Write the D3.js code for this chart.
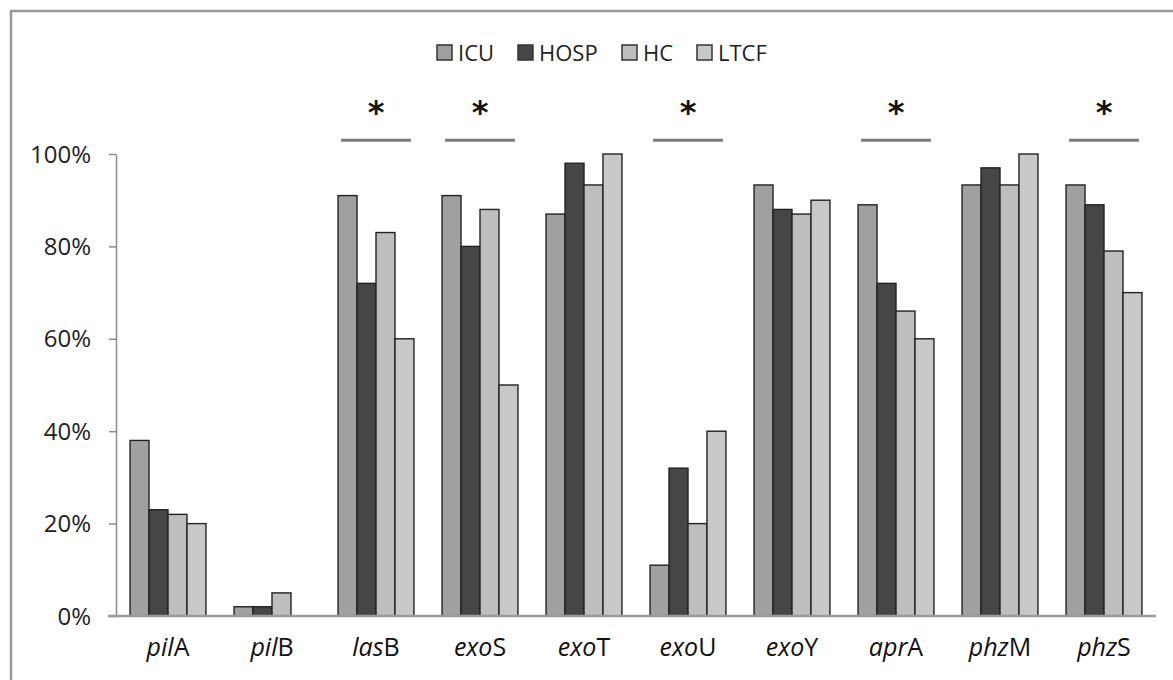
<!DOCTYPE html>
<html><head><meta charset="utf-8">
<script src="https://cdn.jsdelivr.net/npm/d3@7"></script>
<style>body{margin:0;background:#fff;}svg{display:block;font-family:"Open Sans",sans-serif;}</style>
</head><body><svg id="c" width="1173" height="680"></svg>
<script>
const genesItalic = ["pil","pil","las","exo","exo","exo","exo","apr","phz","phz"];
const genesSuffix = ["A","B","B","S","T","U","Y","A","M","S"];
const categories = genesItalic.map((g,i)=>g+genesSuffix[i]);
const seriesNames = ["ICU","HOSP","HC","LTCF"];
const ICU  = [38, 2, 91, 91, 87, 11, 93.3, 89, 93.3, 93.3];
const HOSP = [23, 2, 72, 80, 98, 32, 88, 72, 97, 89];
const HC   = [22, 5, 83, 88, 93.3, 20, 87, 66, 93.3, 79];
const LTCF = [20, 0, 60, 50, 100, 40, 90, 60, 100, 70];
const significant = ["lasB","exoS","exoU","aprA","phzS"];
const yTicks = [0, 20, 40, 60, 80, 100];
const colors = ["#a0a0a0","#464646","#bebebe","#c8c8c8"];

const svg = d3.select("#c");
const x0 = 116, x1 = 1156, yTop = 154, yBot = 616;
const x = d3.scaleBand().domain(categories).range([x0, x1]).paddingInner(0.27).paddingOuter(0.135);
const xs = d3.scaleBand().domain(seriesNames).range([0, x.bandwidth()]);
const y = d3.scaleLinear().domain([0, 100]).range([yBot, yTop]);

// frame
svg.append("rect").attr("x",11).attr("y",11).attr("width",1200).attr("height",700)
  .attr("fill","none").attr("stroke","#999").attr("stroke-width",2.5);

// y axis
const ya = svg.append("g").attr("transform",`translate(${x0},0)`)
  .call(d3.axisLeft(y).tickValues(yTicks).tickFormat(d=>d+"%").tickSize(7).tickSizeOuter(0));
ya.select(".domain").attr("stroke","#8c8c8c").attr("stroke-width",1.5);
ya.selectAll(".tick line").attr("stroke","#8c8c8c").attr("stroke-width",1.5);
ya.selectAll(".tick text").attr("font-size",24).attr("fill","#222").attr("x",-25).attr("dy","0.34em")
  .attr("font-family","'Open Sans',sans-serif");

// bars
const data = [ICU,HOSP,HC,LTCF];
const g = svg.append("g");
categories.forEach((c,i)=>{
  seriesNames.forEach((s,j)=>{
    const v = data[j][i];
    if (v <= 0) return;
    g.append("rect").attr("x", x(c)+xs(s)).attr("y", y(v))
      .attr("width", xs.bandwidth()).attr("height", y(0)-y(v))
      .attr("fill", colors[j]).attr("stroke","#222").attr("stroke-width",1.4);
  });
});

// x axis line
svg.append("line").attr("x1",108).attr("x2",x1).attr("y1",yBot).attr("y2",yBot)
  .attr("stroke","#9a9a9a").attr("stroke-width",2.5);

// x labels
categories.forEach((c,i)=>{
  const t = svg.append("text").attr("x", x(c)+x.bandwidth()/2).attr("y", 656)
    .attr("text-anchor","middle").attr("font-size",25).attr("fill","#111");
  t.append("tspan").attr("font-style","italic").text(genesItalic[i]);
  t.append("tspan").text(genesSuffix[i]);
});

// significance
significant.forEach(c=>{
  const cx = x(c)+x.bandwidth()/2;
  svg.append("line").attr("x1",cx-35).attr("x2",cx+35).attr("y1",y(103)).attr("y2",y(103))
    .attr("stroke","#7a7a7a").attr("stroke-width",3);
  svg.append("text").attr("x",cx).attr("y",y(103)-17).attr("text-anchor","middle")
    .attr("font-size",32).attr("font-weight","bold").attr("font-family","'DejaVu Sans',sans-serif")
    .attr("fill","#111").text("*");
});

// legend
const legX = [437, 518, 622, 697];
seriesNames.forEach((s,j)=>{
  svg.append("rect").attr("x",legX[j]).attr("y",45).attr("width",15).attr("height",15)
    .attr("fill",colors[j]).attr("stroke","#333").attr("stroke-width",1.5);
  svg.append("text").attr("x",legX[j]+21).attr("y",61).attr("font-size",22).attr("fill","#222").text(s);
});
</script></body></html>
